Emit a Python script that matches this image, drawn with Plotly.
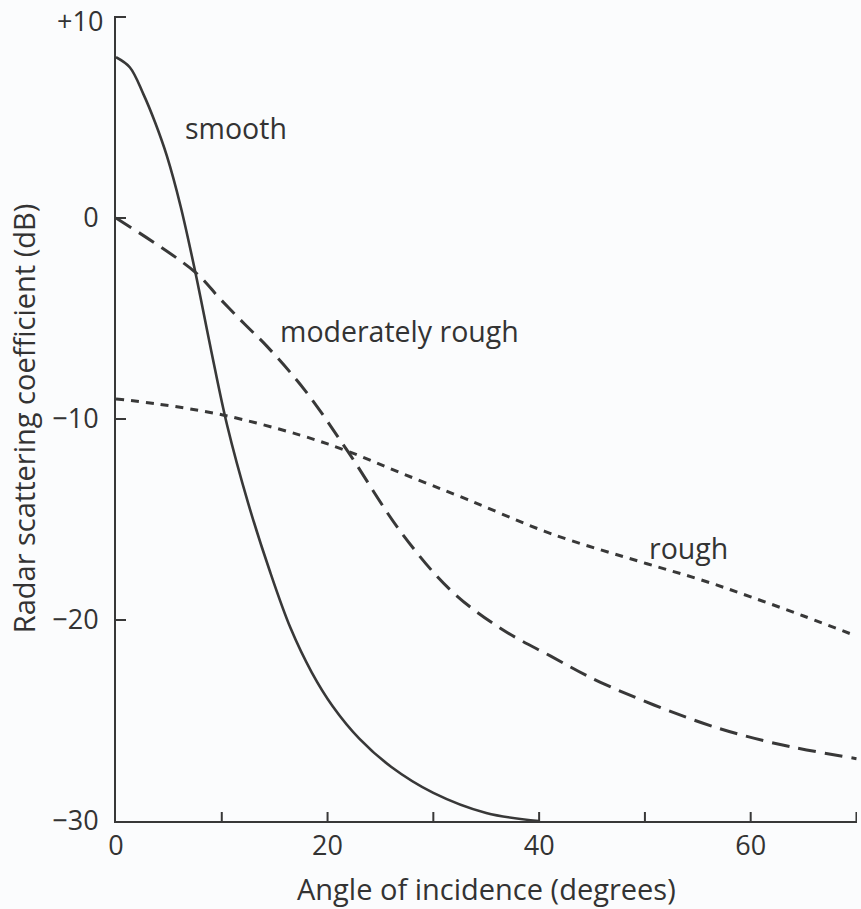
import plotly.graph_objects as go

# ---- data ----
smooth_angle = [0, 1.3, 2.6, 3.7, 4.8, 6.1, 7.5, 9.0, 10.5, 12.5, 14.5, 16.5, 18.5, 20.5, 23.0, 26.0, 30.0, 35.0, 40.0]
smooth_db = [8.0, 7.5, 6.15, 4.75, 3.1, 0.6, -2.7, -6.6, -10.3, -14.2, -17.5, -20.4, -22.6, -24.3, -25.9, -27.3, -28.6, -29.6, -30.0]

moderate_angle = [0, 7.5, 9.8, 12.2, 14.3, 17.9, 21.9, 26.9, 31.6, 36.3, 41.1, 45.8, 55.3, 62.0, 70.0]
moderate_db = [0.0, -2.7, -4.0, -5.3, -6.4, -8.6, -11.6, -15.6, -18.5, -20.4, -21.8, -23.1, -25.1, -26.1, -26.9]

rough_angle = [0, 3.9, 10.1, 17.4, 21.9, 27.0, 33.2, 41.1, 50.2, 55.3, 60.0, 65.0, 70.0]
rough_db = [-9.0, -9.25, -9.8, -10.8, -11.6, -12.7, -14.0, -15.7, -17.2, -18.0, -18.85, -19.8, -20.8]

y_tickvals = [10, 0, -10, -20, -30]
y_ticktext = ["+10", "0", "\u221210", "\u221220", "\u221230"]
y_tickmarks = [10, 0, -10, -20]
x_tickvals = [0, 20, 40, 60]
x_ticktext = ["0", "20", "40", "60"]
x_tickmarks = [10, 20, 30, 40, 50, 60, 70]

curve_labels = ["smooth", "moderately rough", "rough"]
label_x = [11.3, 26.8, 54.1]
label_y = [4.5, -5.6, -16.4]

x_title = "Angle of incidence (degrees)"
y_title = "Radar scattering coefficient (dB)"

INK = "#383838"
TEXT = "#333333"
BG = "#fbfcfd"
FONT = "Open Sans"

W, H = 861, 909
ML, MR, MT, MB = 116, 4, 16, 88
PLOT_W = W - ML - MR
PLOT_H = H - MT - MB
X_TICK_LEN = 9
Y_TICK_LEN = 10

fig = go.Figure()
fig.add_trace(go.Scatter(x=smooth_angle, y=smooth_db, mode="lines",
                         line=dict(color=INK, width=2.6, shape="spline", smoothing=1.0),
                         showlegend=False, hoverinfo="skip"))
fig.add_trace(go.Scatter(x=moderate_angle, y=moderate_db, mode="lines",
                         line=dict(color=INK, width=3, shape="spline", smoothing=1.0, dash="18px,9px"),
                         showlegend=False, hoverinfo="skip"))
fig.add_trace(go.Scatter(x=rough_angle, y=rough_db, mode="lines",
                         line=dict(color=INK, width=3, shape="spline", smoothing=1.0, dash="8px,7px"),
                         showlegend=False, hoverinfo="skip"))

for txt, lx, ly in zip(curve_labels, label_x, label_y):
    fig.add_annotation(x=lx, y=ly, text=txt, showarrow=False,
                       font=dict(family=FONT, size=28.5, color=TEXT),
                       xanchor="center", yanchor="middle")

# x-axis title placed below the tick labels
fig.add_annotation(xref="x domain", yref="y domain", x=0.5, y=0, yshift=-67,
                   text=x_title, showarrow=False, xanchor="center", yanchor="middle",
                   font=dict(family=FONT, size=29, color=TEXT))

# top y tick label ("+10") sits slightly below its tick, as in the reference
fig.add_annotation(xref="x domain", yref="y", x=0, y=y_tickvals[0], xshift=-11, yshift=-3,
                   text=y_ticktext[0], showarrow=False, xanchor="right", yanchor="middle",
                   font=dict(family=FONT, size=27, color=TEXT))

# inward-pointing tick marks
for v in x_tickmarks:
    fig.add_shape(type="line", xref="x", yref="y domain", x0=v, x1=v,
                  y0=0, y1=X_TICK_LEN / PLOT_H, line=dict(color=INK, width=2), layer="above")
for v in y_tickmarks:
    fig.add_shape(type="line", xref="x domain", yref="y", x0=0, x1=Y_TICK_LEN / PLOT_W,
                  y0=v, y1=v, line=dict(color=INK, width=2), layer="above")

fig.update_layout(
    width=W, height=H,
    margin=dict(l=ML, r=MR, t=MT, b=MB),
    paper_bgcolor=BG, plot_bgcolor=BG,
    font=dict(family=FONT, color=TEXT),
)
fig.update_xaxes(
    range=[0, 70.05], showgrid=False, zeroline=False,
    showline=True, linecolor=INK, linewidth=2,
    tickmode="array", tickvals=x_tickvals, ticktext=x_ticktext,
    ticks="", ticklabeloverflow="allow",
    tickfont=dict(family=FONT, size=27, color=TEXT),
    ticklabelstandoff=0,
    automargin=False,
)
fig.update_yaxes(
    range=[-30, 10.05], showgrid=False, zeroline=False,
    showline=True, linecolor=INK, linewidth=2,
    tickmode="array", tickvals=y_tickvals[1:], ticktext=y_ticktext[1:],
    ticks="", ticklabeloverflow="allow",
    tickfont=dict(family=FONT, size=27, color=TEXT),
    ticklabelstandoff=10,
    title=dict(text=y_title, font=dict(family=FONT, size=29, color=TEXT), standoff=8),
    automargin=False,
)

fig.write_html("out.html")
